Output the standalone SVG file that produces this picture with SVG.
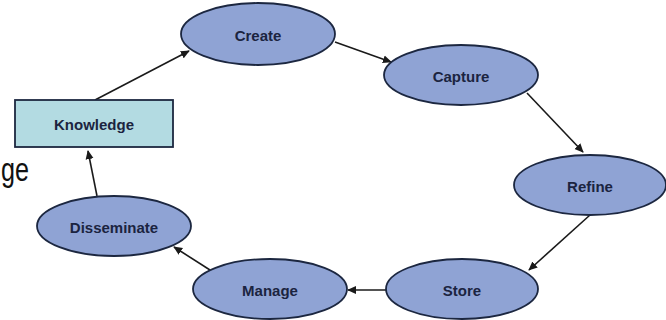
<svg xmlns="http://www.w3.org/2000/svg" width="666" height="320" viewBox="0 0 666 320">
<style>
.n ellipse{fill:#8fa3d4;stroke:#1c2740;stroke-width:1.8}
.n rect{fill:#b3dbe2;stroke:#1c2740;stroke-width:1.8}
.n text{font-family:"Liberation Sans",Arial,sans-serif;font-weight:bold;font-size:15px;fill:#1b2440;text-anchor:middle;dominant-baseline:central}
.c line{stroke:#1a1a1a;stroke-width:1.6;marker-end:url(#ah)}
</style>
<defs>
<marker id="ah" viewBox="0 0 10 10" refX="9" refY="5" markerWidth="9" markerHeight="9" markerUnits="userSpaceOnUse" orient="auto">
<path d="M0,0.5 L10,5 L0,9.5 z" fill="#1a1a1a"/>
</marker>
</defs>
<rect width="666" height="320" fill="#fff"/>
<text x="1" y="181" font-family="Liberation Sans,Arial,sans-serif" font-size="33" fill="#111" textLength="28" lengthAdjust="spacingAndGlyphs">ge</text>
<g class="c">
<line x1="95" y1="100" x2="189" y2="51"/>
<line x1="335" y1="42" x2="391" y2="62"/>
<line x1="527" y1="93" x2="583" y2="152"/>
<line x1="590" y1="215" x2="529" y2="270"/>
<line x1="387" y1="290" x2="348" y2="290"/>
<line x1="210" y1="270" x2="174" y2="247"/>
<line x1="97" y1="196" x2="88" y2="151"/>
</g>
<g id="knowledge" class="n"><rect x="15" y="100" width="158" height="47"/><text x="94" y="124">Knowledge</text></g>
<g id="create" class="n"><ellipse cx="258" cy="34" rx="77" ry="31"/><text x="258" y="35">Create</text></g>
<g id="capture" class="n"><ellipse cx="461" cy="75" rx="77" ry="30"/><text x="461" y="76">Capture</text></g>
<g id="refine" class="n"><ellipse cx="590" cy="185" rx="76" ry="30"/><text x="590" y="186">Refine</text></g>
<g id="store" class="n"><ellipse cx="462" cy="289" rx="76" ry="30"/><text x="462" y="290">Store</text></g>
<g id="manage" class="n"><ellipse cx="270" cy="289" rx="77" ry="30"/><text x="270" y="290">Manage</text></g>
<g id="disseminate" class="n"><ellipse cx="114" cy="226" rx="77" ry="30"/><text x="114" y="227">Disseminate</text></g>
</svg>
